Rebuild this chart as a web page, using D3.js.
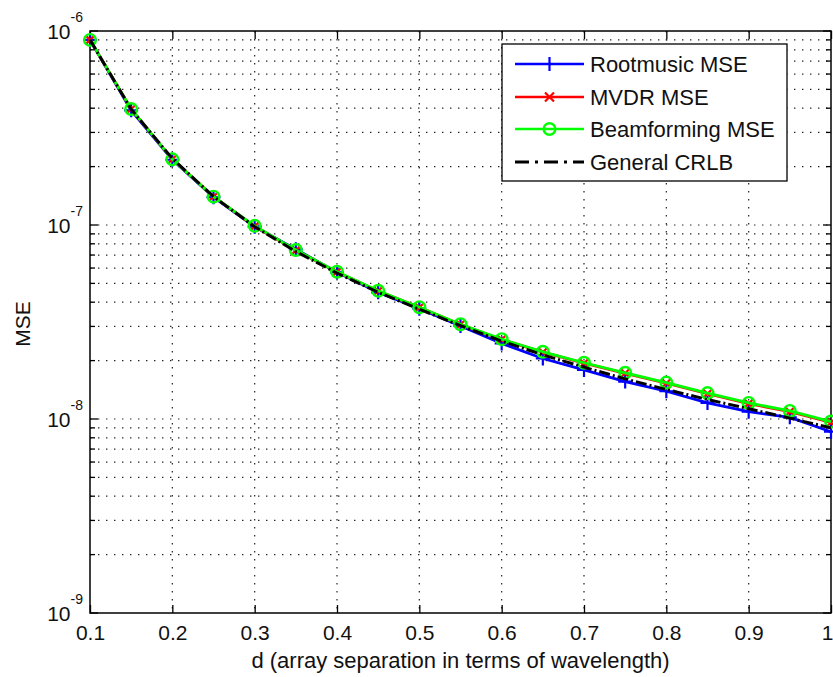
<!DOCTYPE html>
<html>
<head>
<meta charset="utf-8">
<script src="https://cdn.jsdelivr.net/npm/d3@7"></script>
<style>
  body { margin: 0; background: #fff; }
  svg { display: block; font-family: "Liberation Sans", Arial, Helvetica, sans-serif; }
</style>
</head>
<body>
<div id="chart"></div>
<script>
// values
const dValues = [0.10, 0.15, 0.20, 0.25, 0.30, 0.35, 0.40, 0.45, 0.50, 0.55,
                 0.60, 0.65, 0.70, 0.75, 0.80, 0.85, 0.90, 0.95, 1.00];
const rootmusicMse = [9.0e-7, 3.9e-7, 2.17e-7, 1.39e-7, 9.8e-8, 7.5e-8, 5.7e-8, 4.5e-8, 3.7e-8, 3.02e-8,
                      2.45e-8, 2.05e-8, 1.79e-8, 1.56e-8, 1.39e-8, 1.21e-8, 1.09e-8, 1.02e-8, 8.6e-9];
const mvdrMse = [9.0e-7, 3.95e-7, 2.18e-7, 1.40e-7, 9.85e-8, 7.4e-8, 5.72e-8, 4.57e-8, 3.76e-8, 3.07e-8,
                 2.57e-8, 2.21e-8, 1.94e-8, 1.72e-8, 1.53e-8, 1.35e-8, 1.20e-8, 1.09e-8, 9.6e-9];
const beamformingMse = [9.0e-7, 3.96e-7, 2.18e-7, 1.40e-7, 9.9e-8, 7.43e-8, 5.74e-8, 4.58e-8, 3.77e-8, 3.08e-8,
                        2.58e-8, 2.22e-8, 1.95e-8, 1.73e-8, 1.54e-8, 1.36e-8, 1.21e-8, 1.10e-8, 9.7e-9];
const generalCrlb = [9.0e-7, 3.95e-7, 2.2e-7, 1.4e-7, 9.8e-8, 7.3e-8, 5.65e-8, 4.5e-8, 3.68e-8, 3.03e-8,
                     2.52e-8, 2.14e-8, 1.85e-8, 1.61e-8, 1.42e-8, 1.26e-8, 1.13e-8, 1.01e-8, 9.0e-9];

const xTicks = [0.1, 0.2, 0.3, 0.4, 0.5, 0.6, 0.7, 0.8, 0.9, 1];
const xTickLabels = ["0.1", "0.2", "0.3", "0.4", "0.5", "0.6", "0.7", "0.8", "0.9", "1"];
const yDecades = [-9, -8, -7, -6];
const legendLabels = ["Rootmusic MSE", "MVDR MSE", "Beamforming MSE", "General CRLB"];

/**
 * Chart layout.
 */
const width = 833, height = 677;
const plot = { left: 90, right: 831, top: 31, bottom: 613 };
const fontSize = 21;

const x = d3.scaleLinear().domain([0.1, 1]).range([plot.left, plot.right]);
const y = d3.scaleLog().domain([1e-9, 1e-6]).range([plot.bottom, plot.top]);

const svg = d3.select("#chart").append("svg")
  .attr("width", width)
  .attr("height", height);

// minor values for the log axis
const yMinor = [];
yDecades.slice(0, -1).forEach(k => {
  for (let m = 2; m <= 9; m++) yMinor.push(m * Math.pow(10, k));
});
const yMajor = yDecades.map(k => Math.pow(10, k));

/**
 * Grid (dotted, as in MATLAB).
 */
const grid = svg.append("g")
  .attr("class", "grid")
  .style("stroke", "#222")
  .style("stroke-width", 1.2)
  .style("stroke-dasharray", "1.4,6.6");

grid.selectAll(".hgrid")
  .data(yMajor.concat(yMinor).filter(v => v > 1e-9 && v < 1e-6))
  .enter().append("line")
    .attr("x1", plot.left)
    .attr("x2", plot.right)
    .attr("y1", d => y(d))
    .attr("y2", d => y(d));

grid.selectAll(".vgrid")
  .data(xTicks.slice(1, -1))
  .enter().append("line")
    .attr("x1", d => x(d))
    .attr("x2", d => x(d))
    .attr("y1", plot.top)
    .attr("y2", plot.bottom);

/**
 * Axes and ticks.
 */
const bottomAxis = d3.axisBottom(x)
  .tickValues(xTicks)
  .tickFormat((d, i) => xTickLabels[i])
  .tickSizeInner(-8)
  .tickSizeOuter(0)
  .tickPadding(12);

const gx = svg.append("g")
  .attr("transform", `translate(0,${plot.bottom})`)
  .call(bottomAxis);
gx.select(".domain").remove();
gx.selectAll("text")
  .style("font-size", fontSize + "px")
  .style("font-family", "inherit")
  .attr("fill", "#111");
// last label sits against the window edge
gx.selectAll("text").filter(d => d === 1)
  .attr("text-anchor", "end")
  .attr("x", 2);
gx.selectAll("line").attr("stroke", "#000").attr("stroke-width", 1.3);

const topAxis = d3.axisTop(x).tickValues(xTicks).tickFormat("").tickSizeInner(-8).tickSizeOuter(0);
const gxTop = svg.append("g").attr("transform", `translate(0,${plot.top})`).call(topAxis);
gxTop.select(".domain").remove();
gxTop.selectAll("line").attr("stroke", "#000").attr("stroke-width", 1.3);

const yTicks = svg.append("g").attr("class", "yticks").attr("stroke", "#000").attr("stroke-width", 1.3);
const tickData = yMajor.map(v => ({ v, len: 8 })).concat(yMinor.map(v => ({ v, len: 5 })));
yTicks.selectAll(".tl")
  .data(tickData)
  .enter().append("line")
    .attr("x1", plot.left)
    .attr("x2", d => plot.left + d.len)
    .attr("y1", d => y(d.v))
    .attr("y2", d => y(d.v));
yTicks.selectAll(".tr")
  .data(tickData)
  .enter().append("line")
    .attr("x1", plot.right)
    .attr("x2", d => plot.right - d.len)
    .attr("y1", d => y(d.v))
    .attr("y2", d => y(d.v));

const yLabels = svg.append("g").attr("class", "ylabels")
  .selectAll("text")
  .data(yDecades)
  .enter().append("text")
    .attr("x", 83)
    .attr("y", d => y(Math.pow(10, d)) + 8)
    .attr("text-anchor", "end")
    .attr("fill", "#111")
    .style("font-size", fontSize + "px");
yLabels.append("tspan").text("10");
yLabels.append("tspan")
  .attr("dy", -17)
  .style("font-size", "14px")
  .text(d => String(d));

// box
svg.append("rect")
  .attr("x", plot.left)
  .attr("y", plot.top)
  .attr("width", plot.right - plot.left)
  .attr("height", plot.bottom - plot.top)
  .attr("fill", "none")
  .attr("stroke", "#000")
  .attr("stroke-width", 1.5);

// axis titles
svg.append("text")
  .attr("x", (plot.left + plot.right) / 2 + 0)
  .attr("y", 668)
  .attr("text-anchor", "middle")
  .attr("fill", "#111")
  .style("font-size", "22px")
  .text("d (array separation in terms of wavelength)");

svg.append("text")
  .attr("transform", "translate(30,324) rotate(-90)")
  .attr("text-anchor", "middle")
  .attr("fill", "#111")
  .style("font-size", fontSize + "px")
  .text("MSE");

/**
 * Series.
 */
const line = d3.line()
  .x((d, i) => x(dValues[i]))
  .y(d => y(d));

const plotArea = svg.append("g").attr("class", "series");

const drawPlus = (g, cx, cy, s, color) => {
  g.append("path")
    .attr("d", `M${cx - s},${cy} L${cx + s},${cy} M${cx},${cy - s} L${cx},${cy + s}`)
    .attr("stroke", color).attr("stroke-width", 2.2).attr("fill", "none");
};
const drawCross = (g, cx, cy, s, color) => {
  g.append("path")
    .attr("d", `M${cx - s},${cy - s} L${cx + s},${cy + s} M${cx - s},${cy + s} L${cx + s},${cy - s}`)
    .attr("stroke", color).attr("stroke-width", 2.2).attr("fill", "none");
};
const drawCircle = (g, cx, cy, r, color) => {
  g.append("circle")
    .attr("cx", cx).attr("cy", cy).attr("r", r)
    .attr("stroke", color).attr("stroke-width", 2.4).attr("fill", "none");
};

const seriesDefs = [
  { values: rootmusicMse, color: "#0000ff", marker: (g, cx, cy) => drawPlus(g, cx, cy, 7, "#0000ff") },
  { values: mvdrMse, color: "#ff0000", marker: (g, cx, cy) => drawCross(g, cx, cy, 4.5, "#ff0000") },
  { values: beamformingMse, color: "#00ff00", marker: (g, cx, cy) => drawCircle(g, cx, cy, 5.8, "#00ff00") }
];

seriesDefs.forEach(s => {
  const g = plotArea.append("g");
  g.append("path")
    .datum(s.values)
    .attr("d", line)
    .attr("fill", "none")
    .attr("stroke", s.color)
    .attr("stroke-width", 2.8);
  s.values.forEach((v, i) => s.marker(g, x(dValues[i]), y(v)));
});

plotArea.append("path")
  .datum(generalCrlb)
  .attr("d", line)
  .attr("fill", "none")
  .attr("stroke", "#000")
  .attr("stroke-width", 3)
  .attr("stroke-dasharray", "11,3,2,3");

/**
 * Legend.
 */
const legend = svg.append("g").attr("class", "legend");
legend.append("rect")
  .attr("x", 502)
  .attr("y", 44)
  .attr("width", 285)
  .attr("height", 137)
  .attr("fill", "#fff")
  .attr("stroke", "#000")
  .attr("stroke-width", 1.3);

const legendRows = [64, 97, 129, 162];
const legendColors = ["#0000ff", "#ff0000", "#00ff00", "#000"];
legendLabels.forEach((label, i) => {
  const row = legend.append("g");
  const ly = legendRows[i];
  row.append("line")
    .attr("x1", 515).attr("x2", 584)
    .attr("y1", ly).attr("y2", ly)
    .attr("stroke", legendColors[i])
    .attr("stroke-width", i === 3 ? 3 : 2.6)
    .attr("stroke-dasharray", i === 3 ? "14,6,3,6" : null);
  if (i < 3) seriesDefs[i].marker(row, 549.5, ly);
  row.append("text")
    .attr("x", 590)
    .attr("y", ly + 8)
    .attr("fill", "#111")
    .style("font-size", "22px")
    .text(label);
});
</script>
</body>
</html>
